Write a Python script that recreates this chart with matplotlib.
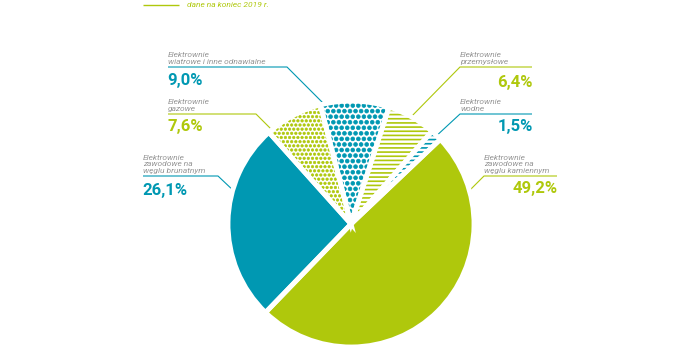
import matplotlib
matplotlib.use("Agg")
import matplotlib.pyplot as plt
import matplotlib.hatch as mhatch

# ---- data ----
categories = [
    "Elektrownie\nzawodowe na\nwęglu kamiennym",
    "Elektrownie\nwodne",
    "Elektrownie\nprzemysłowe",
    "Elektrownie\nwiatrowe i inne odnawialne",
    "Elektrownie\ngazowe",
    "Elektrownie\nzawodowe na\nwęglu brunatnym",
]
shares = [49.2, 1.5, 6.4, 9.0, 7.6, 26.1]
pct_labels = ["49,2%", "1,5%", "6,4%", "9,0%", "7,6%", "26,1%"]
note_text = "dane na koniec 2019 r."

BLUE = "#0098b2"
GREEN = "#afc80c"
GREY = "#969696"

colors = [GREEN, BLUE, GREEN, BLUE, GREEN, BLUE]
hatches = [None, "----", "----", "...", "oooo", None]
hatch_lw = [0, 1.2, 1.2, 0.5, 0.45, 0]

# dot patterns drawn as solid dots (larger than the default tiny dots)
mhatch.SmallFilledCircles.size = 0.34
mhatch.SmallCircles.size = 0.3
mhatch.SmallCircles.filled = True

plt.rcParams["font.family"] = ["Roboto", "DejaVu Sans"]
plt.rcParams["hatch.linewidth"] = 1.2

W, H = 700, 350
fig = plt.figure(figsize=(7, 3.5), dpi=100)
ax = fig.add_axes([0, 0, 1, 1])

def P(x, y):
    return (x, H - y)

center = P(351, 224)
R = 123

wedges, _ = ax.pie(shares, startangle=-134, counterclock=True,
                   center=center, radius=R, colors=colors,
                   wedgeprops=dict(linewidth=0))
for w, c, h, lw in zip(wedges, colors, hatches, hatch_lw):
    w.set_zorder(3)
    if h is not None:
        w.set_facecolor("white")
        w.set_edgecolor(c)
        w.set_linewidth(0)
        w.set_hatch(h)
        try:
            w.set_hatch_linewidth(lw)
        except AttributeError:
            pass

# white gaps between slices
wedges2, _ = ax.pie(shares, startangle=-134, counterclock=True,
                    center=center, radius=R,
                    wedgeprops=dict(facecolor="none", edgecolor="white",
                                    linewidth=3.5))
for w in wedges2:
    w.set_zorder(4)

ax.set_xlim(0, W)
ax.set_ylim(0, H)
ax.set_aspect("equal")
ax.axis("off")

lab_kw = dict(fontsize=6, style="italic", color=GREY, linespacing=1.15, zorder=5)
pct_kw = dict(fontsize=12, fontweight="bold", zorder=5)
line_kw = dict(linewidth=0.8, zorder=2, solid_capstyle="butt")

# left side labels: (category index, text x, line y, line end x, pointer end, pct y)
left = [
    (3, 168, 67, 287, (325, 105), 81),
    (4, 168, 114, 256, (276, 134), 127),
    (5, 143, 176, 218, (236, 193), 190),
]
for i, x, ly, lx2, pend, py in left:
    c = colors[i]
    ax.plot([P(x, ly)[0], P(lx2, ly)[0], P(*pend)[0]],
            [P(x, ly)[1], P(lx2, ly)[1], P(*pend)[1]], color=c, **line_kw)
    ax.text(*P(x, ly - 2), categories[i], ha="left", va="bottom", **lab_kw)
    ax.text(*P(x - 1, py), pct_labels[i], ha="left", va="center", color=c, **pct_kw)

# right side labels
right = [
    (2, 460, 67, 532, (408, 120), 82),
    (1, 460, 114, 532, (433, 139), 127),
    (0, 484, 176, 557, (466, 194), 189),
]
for i, x, ly, lx2, pend, py in right:
    c = colors[i]
    ax.plot([P(lx2, ly)[0], P(x, ly)[0], P(*pend)[0]],
            [P(lx2, ly)[1], P(x, ly)[1], P(*pend)[1]], color=c, **line_kw)
    ax.text(*P(x, ly - 2), categories[i], ha="left", va="bottom", **lab_kw)
    ax.text(*P(lx2 + 1, py), pct_labels[i], ha="right", va="center", color=c, **pct_kw)

# top note
ax.plot([P(143, 5)[0], P(179, 5)[0]], [P(143, 5)[1], P(179, 5)[1]],
        color=GREEN, linewidth=1.0, solid_capstyle="butt")
ax.text(*P(187, 5), note_text, ha="left", va="center", fontsize=6,
        style="italic", color=GREEN)

fig.savefig("out.png", dpi=100, facecolor="white")
